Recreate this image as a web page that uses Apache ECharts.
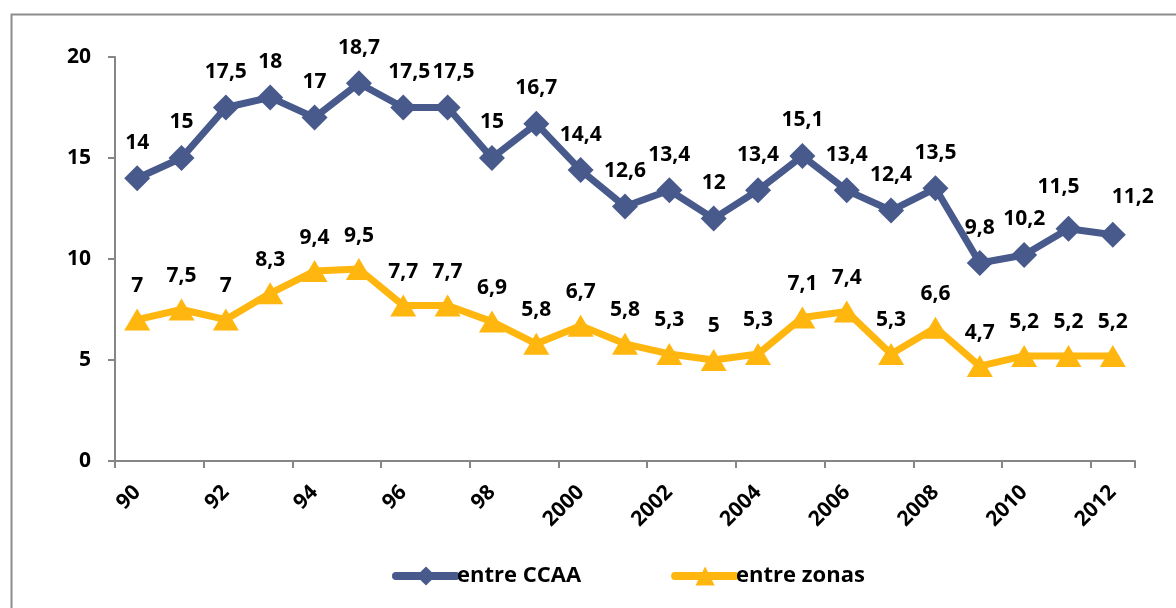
<!DOCTYPE html>
<html>
<head>
<meta charset="utf-8">
<script src="https://cdn.jsdelivr.net/npm/echarts@6/dist/echarts.min.js"></script>
<style>
  html, body { margin: 0; padding: 0; background: #fff; }
  #chart { width: 1176px; height: 608px; }
</style>
</head>
<body>
<div id="chart"></div>
<script>
const years = ["90", "91", "92", "93", "94", "95", "96", "97", "98", "99", "2000", "2001",
  "2002", "2003", "2004", "2005", "2006", "2007", "2008", "2009", "2010", "2011", "2012"];
const entreCCAA = [14, 15, 17.5, 18, 17, 18.7, 17.5, 17.5, 15, 16.7, 14.4, 12.6,
  13.4, 12, 13.4, 15.1, 13.4, 12.4, 13.5, 9.8, 10.2, 11.5, 11.2];
const entreZonas = [7, 7.5, 7, 8.3, 9.4, 9.5, 7.7, 7.7, 6.9, 5.8, 6.7, 5.8,
  5.3, 5, 5.3, 7.1, 7.4, 5.3, 6.6, 4.7, 5.2, 5.2, 5.2];

const font = "'Open Sans', sans-serif";
const blue = "#485a8c";
const yellow = "#ffb60f";

const chart = echarts.init(document.getElementById("chart"));

const labelStyle = {
  show: true,
  position: "top",
  distance: 12,
  fontFamily: font,
  fontWeight: "bold",
  fontSize: 21,
  color: "#000",
  formatter: (p) => String(p.value).replace(".", ","),
};

// a few labels sit off-centre in the original
const ccaaData = entreCCAA.map((v, i) => {
  if (i === 22) return { value: v, label: { offset: [20, -2] } };
  if (i === 21) return { value: v, label: { offset: [-10, -6] } };
  if (i === 6 || i === 7) return { value: v, label: { offset: [6, 0] } };
  return v;
});

chart.setOption({
  animation: false,
  graphic: [{
    type: "rect",
    left: 9,
    top: 12,
    shape: { width: 1300, height: 700 },
    style: { fill: "none", stroke: "#8c8c8c", lineWidth: 2 },
    silent: true,
  }],
  grid: { left: 115, right: 41, top: 57, bottom: 147 },
  legend: {
    left: 387,
    top: 560,
    itemWidth: 60,
    itemHeight: 24,
    itemGap: 90,
    lineStyle: { width: 8, cap: "round" },
    textStyle: { fontFamily: font, fontWeight: "bold", fontSize: 22, color: "#000", padding: [0, 0, 0, -4] },
    data: ["entre CCAA", "entre zonas"],
  },
  xAxis: {
    type: "category",
    data: years,
    boundaryGap: true,
    axisLine: { lineStyle: { color: "#868686", width: 2 } },
    axisTick: { show: true, length: 7, lineStyle: { color: "#868686", width: 2 } },
    axisLabel: {
      interval: 1,
      rotate: 45,
      margin: 28,
      fontFamily: font,
      fontWeight: "bold",
      fontSize: 21,
      color: "#000",
    },
  },
  yAxis: {
    type: "value",
    min: 0,
    max: 20,
    interval: 5,
    splitLine: { show: false },
    axisLine: { show: true, lineStyle: { color: "#868686", width: 2 } },
    axisTick: { show: true, length: 7, lineStyle: { color: "#868686", width: 2 } },
    axisLabel: { margin: 24, fontFamily: font, fontWeight: "bold", fontSize: 21, color: "#000" },
  },
  series: [
    {
      name: "entre CCAA",
      type: "line",
      data: ccaaData,
      symbol: "diamond",
      symbolSize: [26, 26],
      lineStyle: { color: blue, width: 7 },
      itemStyle: { color: blue },
      label: labelStyle,
    },
    {
      name: "entre zonas",
      type: "line",
      data: entreZonas,
      symbol: "triangle",
      symbolSize: [26, 22],
      lineStyle: { color: yellow, width: 7 },
      itemStyle: { color: yellow },
      label: labelStyle,
    },
  ],
});
</script>
</body>
</html>
